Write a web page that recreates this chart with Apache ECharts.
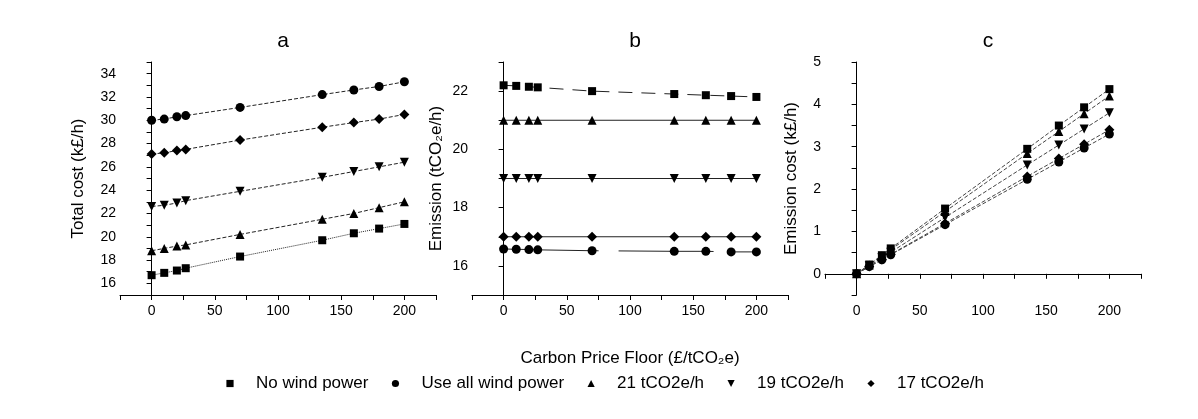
<!DOCTYPE html>
<html>
<head>
<meta charset="utf-8">
<script src="https://cdn.jsdelivr.net/npm/echarts@6/dist/echarts.min.js"></script>
<style>
  html, body { margin: 0; padding: 0; background: #fff; }
  #chart { width: 1198px; height: 419px; }
</style>
</head>
<body>
<div id="chart"></div>
<script>
// Carbon price floor (x values shared by all three panels)
const PRICES = [0, 10, 20, 27, 70, 135, 160, 180, 200];
const SERIES_NAMES = ['No wind power', 'Use all wind power', '21 tCO2e/h', '19 tCO2e/h', '17 tCO2e/h'];

// panel a: total cost (k£/h)
const costNoWind = [16.7, 16.9, 17.1, 17.3, 18.3, 19.7, 20.3, 20.7, 21.1];
const costAllWind = [30.0, 30.1, 30.3, 30.4, 31.1, 32.2, 32.6, 32.9, 33.3];
const cost21 = [18.8, 19.0, 19.2, 19.3, 20.2, 21.5, 22.0, 22.5, 23.0];
const cost19 = [22.6, 22.7, 22.9, 23.1, 23.9, 25.1, 25.6, 26.0, 26.4];
const cost17 = [27.1, 27.2, 27.4, 27.5, 28.3, 29.4, 29.8, 30.1, 30.5];

// panel b: emission (tCO2e/h)
const emisNoWind = [22.2, 22.18, 22.15, 22.13, 22.0, 21.9, 21.86, 21.83, 21.8];
const emisAllWind = [16.58, 16.57, 16.56, 16.55, 16.52, 16.5, 16.5, 16.48, 16.48];
const emis21 = [21, 21, 21, 21, 21, 21, 21, 21, 21];
const emis19 = [19, 19, 19, 19, 19, 19, 19, 19, 19];
const emis17 = [17, 17, 17, 17, 17, 17, 17, 17, 17];

// panel c: emission cost (k£/h)
const ecostNoWind = [0, 0.22, 0.44, 0.6, 1.54, 2.95, 3.5, 3.93, 4.36];
const ecostAllWind = [0, 0.17, 0.33, 0.45, 1.16, 2.23, 2.64, 2.97, 3.3];
const ecost21 = [0, 0.21, 0.42, 0.57, 1.47, 2.84, 3.36, 3.78, 4.2];
const ecost19 = [0, 0.19, 0.38, 0.51, 1.33, 2.57, 3.04, 3.42, 3.8];
const ecost17 = [0, 0.17, 0.34, 0.46, 1.19, 2.3, 2.72, 3.06, 3.4];

const FONT = 'Liberation Sans, Arial, sans-serif';
const SYMBOLS = ['rect', 'circle', 'triangle', 'path://M0,0 L10,0 L5,9 Z', 'diamond'];
const SYMBOL_SIZES = [8, 9, 9, 9, 10];

const panels = [
  { title: 'a', left: 120, yName: 'Total cost (k£/h)', yGap: 33, min: 15, max: 35, step: 1,
    data: [costNoWind, costAllWind, cost21, cost19, cost17],
    dashes: ['dotted', 'dashed', 'dashed', 'dashed', 'dashed'], lineColor: '#222' },
  { title: 'b', left: 472, yName: 'Emission (tCO₂e/h)', yGap: 27, min: 15, max: 23, step: 1,
    data: [emisNoWind, emisAllWind, emis21, emis19, emis17],
    dashes: [[14, 9], [95, 20], 'solid', 'solid', 'solid'], lineColor: '#222' },
  { title: 'c', left: 825, yName: 'Emission cost (k£/h)', yGap: 25, min: -0.5, max: 5, step: 0.5,
    data: [ecostNoWind, ecostAllWind, ecost21, ecost19, ecost17],
    dashes: ['dashed', 'dashed', 'dashed', 'dashed', 'dashed'], lineColor: '#444' }
];

const GRID_W = 316;
const axisBase = {
  axisLine: { lineStyle: { color: '#000', width: 1 } },
  axisTick: { inside: false, length: 5, lineStyle: { color: '#000' } },
  splitLine: { show: false },
  axisLabel: { color: '#000', fontSize: 14, fontFamily: FONT }
};

const option = {
  backgroundColor: '#fff',
  animation: false,
  title: panels.map(p => ({
    text: p.title, left: p.left + GRID_W / 2, top: 26, textAlign: 'center',
    textStyle: { fontSize: 21, fontWeight: 'normal', color: '#000', fontFamily: FONT }
  })),
  legend: {
    left: 203, top: 370, itemWidth: 42, itemHeight: 9, itemGap: 5,
    data: SERIES_NAMES,
    textStyle: { fontSize: 17, color: '#000', fontFamily: FONT },
    lineStyle: { opacity: 0 },
    itemStyle: { color: '#000' }
  },
  grid: panels.map(p => ({ left: p.left, top: 62, width: GRID_W, height: 233 })),
  xAxis: panels.map((p, i) => ({
    ...axisBase, type: 'value', gridIndex: i, min: -25, max: 225, interval: 25,
    axisLabel: { ...axisBase.axisLabel, margin: 9, formatter: v => (v % 50 === 0 ? v : '') },
    name: i === 1 ? 'Carbon Price Floor (£/tCO₂e)' : '',
    nameLocation: 'middle', nameGap: 55,
    nameTextStyle: { fontSize: 17, color: '#000', fontFamily: FONT }
  })),
  yAxis: panels.map((p, i) => ({
    ...axisBase, type: 'value', gridIndex: i, min: p.min, max: p.max, interval: p.step,
    axisLabel: { ...axisBase.axisLabel, margin: 4,
      formatter: v => (p.step === 1 ? (v % 2 === 0 ? v : '') : (Number.isInteger(v) ? v : '')) },
    name: p.yName, nameLocation: 'middle', nameGap: p.yGap,
    nameTextStyle: { fontSize: 17, color: '#000', fontFamily: FONT }
  })),
  series: []
};

panels.forEach((p, i) => {
  SERIES_NAMES.forEach((name, k) => {
    option.series.push({
      name, type: 'line', xAxisIndex: i, yAxisIndex: i,
      data: PRICES.map((x, j) => [x, p.data[k][j]]),
      symbol: SYMBOLS[k], symbolSize: SYMBOL_SIZES[k],
      itemStyle: { color: '#000' },
      lineStyle: { color: p.lineColor, width: 1, type: p.dashes[k] },
      emphasis: { disabled: true }
    });
  });
});

const chart = echarts.init(document.getElementById('chart'), null, { renderer: 'canvas' });
chart.setOption(option);
</script>
</body>
</html>
